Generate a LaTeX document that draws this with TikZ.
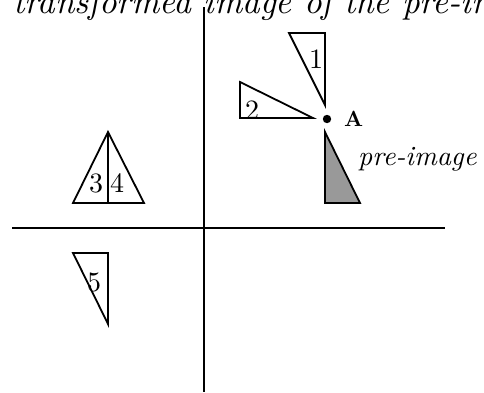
\documentclass[tikz,border=0pt]{standalone}
\usepackage{graphicx}
\begin{document}
\begin{tikzpicture}[x=1pt,y=-1pt,
  axis/.style={line width=1.9pt},
  tri/.style={line width=1.8pt, line join=miter},
  num/.style={inner sep=0pt},
  lbl/.style={inner sep=0pt, anchor=base west}]
\useasboundingbox (0,0) rectangle (484,392);
% axes
\coordinate (vt) at (204,7);
\coordinate (vb) at (204,392);
\coordinate (hl) at (12,228);
\coordinate (hr) at (445,228);
\draw[axis] (vt) -- (vb);
\draw[axis] (hl) -- (hr);
% title
\node[lbl] (title) at (13,13) {\scalebox{3.45}{\itshape transformed image of the pre-image}};
% pre-image
\draw[tri, fill=black!40] (325,132) -- (325,203) -- (360,203) -- cycle;
\node[lbl] (pre) at (358,165) {\scalebox{2.78}{\itshape pre-image}};
% triangle 1
\draw[tri] (325,105) -- (325,33) -- (289,33) -- cycle;
\node[num] (n1) at (316,59) {\scalebox{2.8}{1}};
% triangle 2
\draw[tri] (313,118) -- (240,118) -- (240,82) -- cycle;
\node[num] (n2) at (252,110) {\scalebox{2.8}{2}};
% point A
\fill (327,119) circle (4.2);
\node[num, anchor=west] (A) at (344,119) {\scalebox{2.2}{\bfseries A}};
% triangles 3 and 4
\draw[tri] (108,132) -- (73,203) -- (144,203) -- cycle;
\draw[tri] (108,132) -- (108,203);
\node[num] (n3) at (96,183) {\scalebox{2.8}{3}};
\node[num] (n4) at (117,183) {\scalebox{2.8}{4}};
% triangle 5
\draw[tri] (73,253) -- (108,253) -- (108,324) -- cycle;
\node[num] (n5) at (94,282) {\scalebox{2.8}{5}};
\end{tikzpicture}
\end{document}
